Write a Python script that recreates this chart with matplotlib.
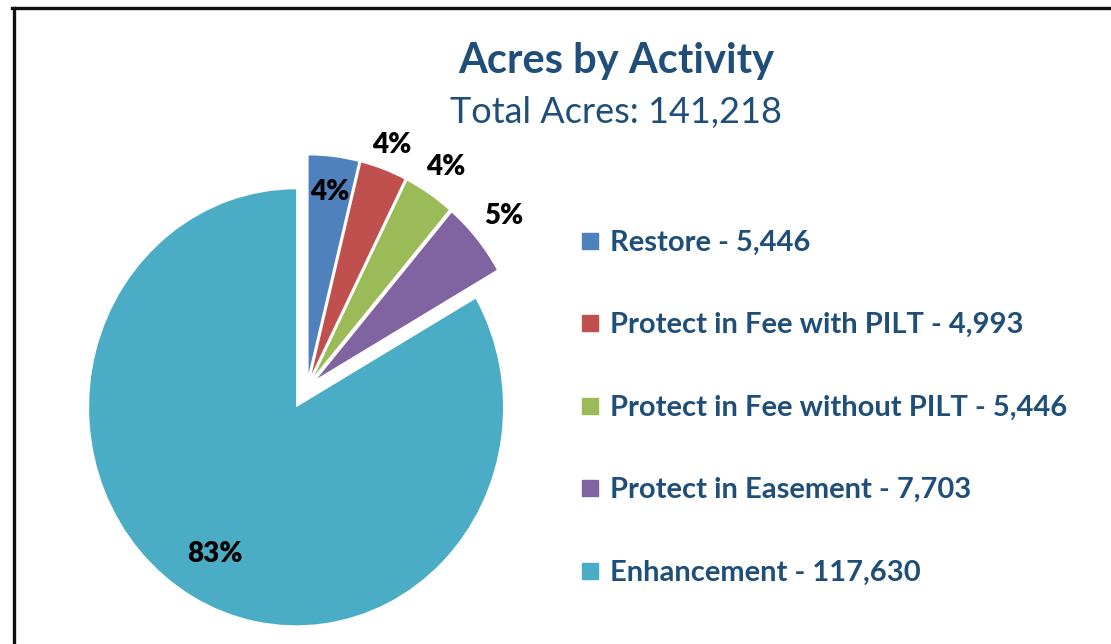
import numpy as np
import matplotlib.pyplot as plt
from matplotlib.patches import Rectangle

labels = ["Restore", "Protect in Fee with PILT", "Protect in Fee without PILT",
          "Protect in Easement", "Enhancement"]
acres = [5446, 4993, 5446, 7703, 117630]
colors = ["#4F81BD", "#C0504D", "#9BBB59", "#8064A2", "#4BACC6"]
explode = [0.065, 0.065, 0.065, 0.065, 0.105]
# distance of each percentage label from its slice apex
label_dist = [0.84, 1.12, 1.15, 1.17, 0.78]

title_color = "#1F4E79"
font = "Lato"
total = sum(acres)

fig = plt.figure(figsize=(11.11, 6.44), dpi=100)

# black frame (left and top edges visible)
fig.add_artist(plt.Line2D([0.0122, 0.0122], [0, 0.9875], color="#111111", lw=2.4,
                          transform=fig.transFigure))
fig.add_artist(plt.Line2D([0.0112, 1.0], [0.9875, 0.9875], color="#111111", lw=2.4,
                          transform=fig.transFigure))

ax = fig.add_axes([0.0900, 0.0598, 0.3726, 0.677])
wedges, _ = ax.pie(acres, colors=colors, startangle=90, counterclock=False,
                   explode=explode, radius=1.0,
                   wedgeprops=dict(linewidth=0))
ax.set_aspect("auto")
ax.set_xlim(-1, 1)
ax.set_ylim(-1, 1)
ax.axis("off")
for w in wedges:
    w.set_clip_on(False)

for w, v, d in zip(wedges, acres, label_dist):
    mid = np.deg2rad((w.theta1 + w.theta2) / 2)
    cx, cy = w.center
    ax.text(cx + d * np.cos(mid), cy + d * np.sin(mid), f"{v / total * 100:.0f}%",
            ha="center", va="center", fontsize=20, fontweight="heavy",
            family=font, color="black", clip_on=False)

fig.text(0.5545, 0.906, "Acres by Activity", ha="center", va="center",
         fontsize=30, fontweight="bold", family=font, color=title_color)
fig.text(0.5545, 0.825, f"Total Acres: {total:,}", ha="center", va="center",
         fontsize=26, family=font, color=title_color)

# legend
leg_y = [0.626, 0.498, 0.370, 0.242, 0.114]
for lab, v, c, y in zip(labels, acres, colors, leg_y):
    fig.add_artist(Rectangle((0.5238, y - 0.0125), 0.0144, 0.025, color=c,
                             transform=fig.transFigure))
    fig.text(0.549, y - 0.003, f"{lab} - {v:,}", ha="left", va="center", fontsize=21,
             fontweight="bold", family=font, color=title_color)

fig.savefig("out.png", dpi=100)
